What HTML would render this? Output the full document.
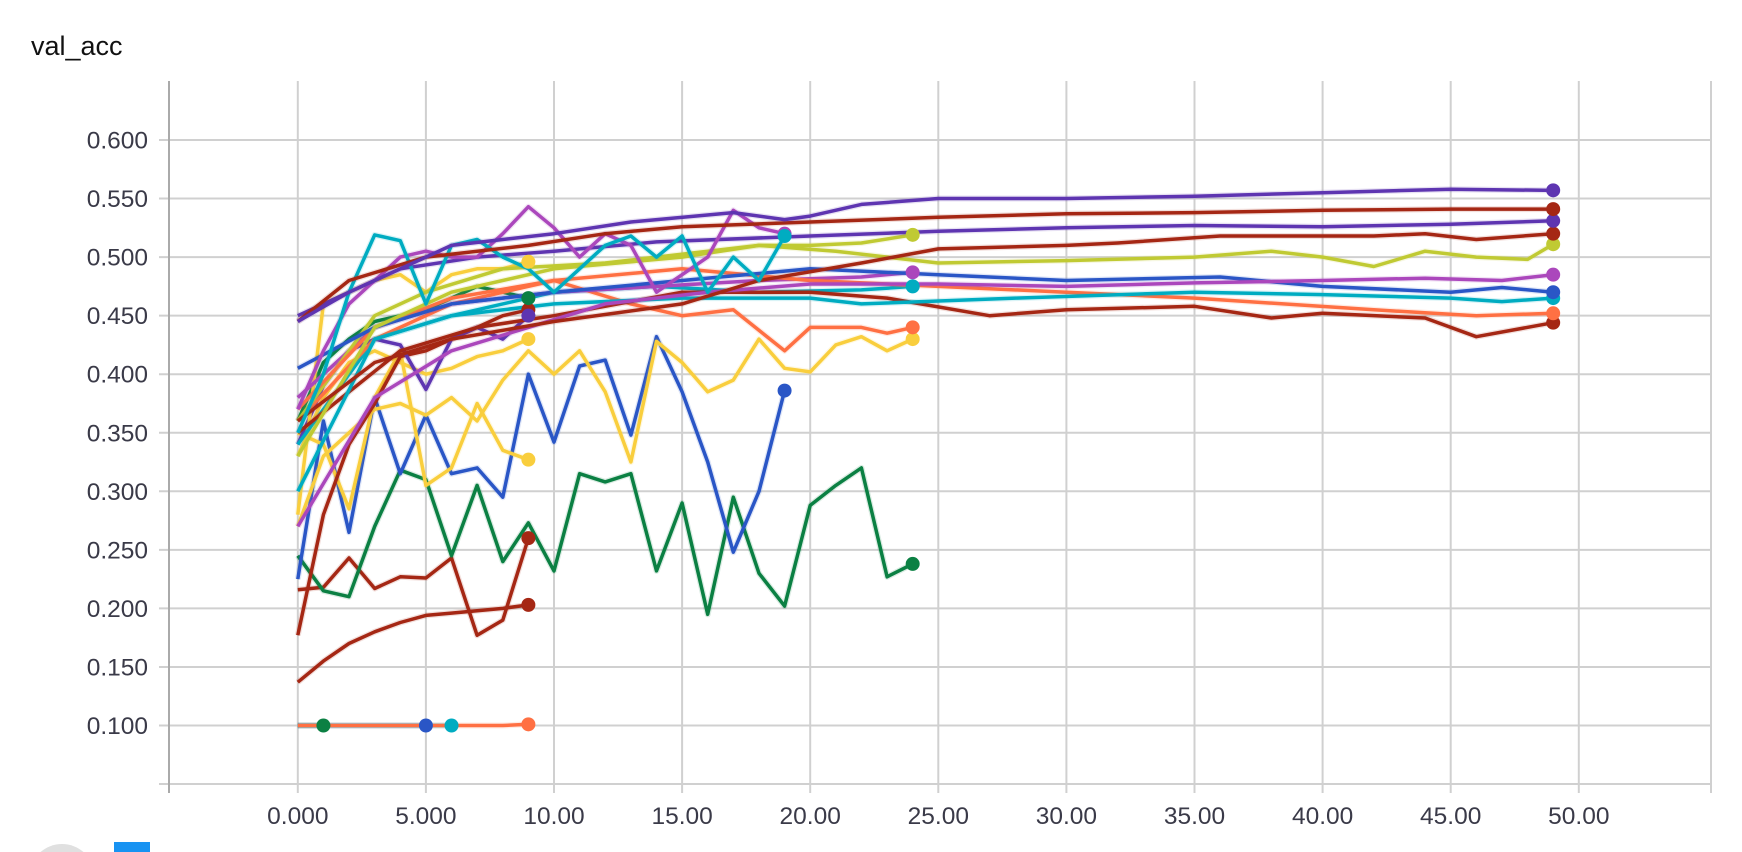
<!DOCTYPE html>
<html><head><meta charset="utf-8"><style>
html,body{margin:0;padding:0;background:#fff;width:1742px;height:852px;overflow:hidden}
svg{display:block;overflow:hidden}
text{font-family:"Liberation Sans",sans-serif}
</style></head><body>
<svg id="chart" width="1742" height="852">
<text x="31" y="55" font-size="27" fill="#111">val_acc</text>
<g id="grid"></g><g id="series"></g><g id="dots"></g>
<path d="M40.5,852 A33,33 0 0 1 83.5,852 Z" fill="#e0e0e0"/>
<rect x="114" y="842" width="36" height="10" fill="#1893f2"/>
</svg>
<script>
const xTicks=[0,5,10,15,20,25,30,35,40,45,50];
const xTickLabels=["0.000","5.000","10.00","15.00","20.00","25.00","30.00","35.00","40.00","45.00","50.00"];
const yTicks=[0.1,0.15,0.2,0.25,0.3,0.35,0.4,0.45,0.5,0.55,0.6];
const yTickLabels=["0.100","0.150","0.200","0.250","0.300","0.350","0.400","0.450","0.500","0.550","0.600"];
const purpleTop=[[0,.445],[2,.47],[4,.49],[6,.51],[8,.515],[10,.52],[13,.53],[17,.538],[19,.532],[20,.535],[22,.545],[25,.55],[30,.55],[35,.552],[40,.555],[45,.558],[49,.557]];
const redTop=[[0,.445],[2,.48],[5,.5],[9,.51],[12,.52],[15,.526],[20,.53],[25,.534],[30,.537],[35,.538],[40,.54],[45,.541],[49,.541]];
const purpleMid=[[0,.45],[2,.47],[4,.49],[7,.5],[10,.505],[14,.513],[20,.518],[25,.522],[30,.525],[35,.527],[40,.526],[45,.528],[49,.531]];
const redMid=[[0,.36],[3,.41],[6,.43],[10,.445],[15,.46],[18,.48],[22,.495],[25,.507],[30,.51],[32,.512],[36,.518],[42,.518],[44,.52],[46,.515],[49,.52]];
const limeLong=[[0,.33],[3,.44],[6,.47],[10,.49],[15,.5],[18,.51],[21,.505],[25,.495],[30,.497],[35,.5],[38,.505],[40,.5],[42,.492],[44,.505],[46,.5],[48,.498],[49,.511]];
const magentaLong=[[0,.27],[3,.38],[6,.42],[9,.44],[12,.46],[16,.47],[20,.477],[25,.477],[30,.475],[35,.478],[40,.48],[44,.482],[47,.48],[49,.485]];
const blueLong=[[0,.405],[3,.44],[6,.46],[10,.47],[15,.48],[20,.49],[25,.485],[30,.48],[36,.483],[40,.475],[45,.47],[47,.474],[49,.47]];
const cyanLong=[[0,.3],[3,.43],[6,.45],[10,.46],[15,.465],[20,.465],[22,.46],[28,.465],[35,.47],[40,.468],[45,.465],[47,.462],[49,.465]];
const orangeLong=[[0,.37],[3,.44],[6,.465],[10,.48],[15,.49],[20,.48],[25,.475],[30,.47],[35,.465],[42,.455],[46,.45],[49,.452]];
const redLow=[[0,.35],[4,.42],[7,.44],[10,.45],[15,.47],[20,.47],[23,.465],[27,.45],[30,.455],[35,.458],[38,.448],[40,.452],[44,.448],[46,.432],[49,.444]];
const limeMed=[[0,.36],[3,.45],[5,.47],[8,.49],[12,.495],[14,.5],[18,.51],[20,.51],[22,.512],[24,.519]];
const purpleMed=[[0,.38],[3,.44],[6,.46],[10,.47],[14,.475],[18,.48],[22,.483],[24,.487]];
const orangeMed=[[0,.36],[3,.43],[6,.46],[10,.48],[13,.46],[15,.45],[17,.455],[19,.42],[20,.44],[22,.44],[23,.435],[24,.44]];
const yellowMed=[.27,.33,.35,.37,.375,.365,.38,.36,.395,.42,.4,.42,.385,.325,.428,.41,.385,.395,.43,.405,.402,.425,.432,.42,.43];
const greenMed=[.245,.215,.21,.27,.318,.31,.245,.305,.24,.273,.232,.315,.308,.315,.232,.29,.195,.295,.23,.202,.288,.305,.32,.227,.238];
const cyanMed=[[0,.34],[3,.43],[6,.45],[10,.47],[14,.475],[18,.47],[22,.472],[24,.475]];
const blueShort=[.225,.36,.265,.38,.315,.365,.315,.32,.295,.4,.342,.407,.412,.348,.432,.385,.325,.248,.3,.386];
const cyanShort=[.35,.4,.47,.519,.514,.46,.51,.515,.5,.49,.47,.49,.51,.518,.5,.518,.47,.5,.48,.518];
const magentaShort=[.37,.42,.46,.48,.5,.505,.5,.5,.52,.543,.525,.5,.52,.51,.47,.485,.5,.54,.525,.52];
const yellowA=[.28,.46,.47,.48,.485,.47,.485,.49,.49,.496];
const yellowB=[.35,.34,.285,.38,.42,.305,.32,.375,.335,.327];
const yellowC=[.33,.38,.41,.42,.41,.4,.405,.415,.42,.43];
const redA=[.216,.218,.243,.217,.227,.226,.243,.177,.19,.26];
const redB=[.137,.155,.17,.18,.188,.194,.196,.198,.2,.203];
const redC=[.177,.28,.34,.375,.415,.42,.43,.44,.45,.455];
const greenShort=[.36,.41,.43,.445,.45,.455,.465,.475,.47,.465];
const purpleShort=[.34,.39,.42,.43,.425,.387,.43,.44,.43,.45];
const flatGreen=[.1,.1];
const flatBlue=[.1,.1,.1,.1,.1,.1];
const flatCyan=[.1,.1,.1,.1,.1,.1,.1];
const flatOrange=[.1,.1,.1,.1,.1,.1,.1,.1,.1,.101];

const C={purple:"#5e35b1",red:"#a52714",blue:"#2a56c6",green:"#0b8043",cyan:"#00acc1",yellow:"#f9ce3d",lime:"#c0ca33",orange:"#ff7043",magenta:"#ab47bc"};
const series=[
["flat-green",flatGreen,C.green],["flat-blue",flatBlue,C.blue],["flat-cyan",flatCyan,C.cyan],["flat-orange",flatOrange,C.orange],
["red-b",redB,C.red],["red-a",redA,C.red],["green-med",greenMed,C.green],["blue-short",blueShort,C.blue],
["yellow-b",yellowB,C.yellow],["yellow-med",yellowMed,C.yellow],["yellow-c",yellowC,C.yellow],["red-c",redC,C.red],
["purple-short",purpleShort,C.purple],["green-short",greenShort,C.green],["yellow-a",yellowA,C.yellow],
["cyan-med",cyanMed,C.cyan],["orange-med",orangeMed,C.orange],["purple-med",purpleMed,C.magenta],["lime-med",limeMed,C.lime],
["red-low",redLow,C.red],["orange-long",orangeLong,C.orange],["cyan-long",cyanLong,C.cyan],["blue-long",blueLong,C.blue],
["magenta-long",magentaLong,C.magenta],["lime-long",limeLong,C.lime],["red-mid",redMid,C.red],["purple-mid",purpleMid,C.purple],
["magenta-short",magentaShort,C.magenta],["cyan-short",cyanShort,C.cyan],["red-top",redTop,C.red],["purple-top",purpleTop,C.purple]
];
const X0=297.8,XS=25.62,Y0=725.5,YS=1171;
const xs=v=>X0+v*XS, ys=v=>Y0-(v-0.1)*YS;
const NS="http://www.w3.org/2000/svg";
const grid=document.getElementById('grid'),sg=document.getElementById('series'),dg=document.getElementById('dots');
function mk(tag,attrs,parent){const e=document.createElementNS(NS,tag);for(const k in attrs)e.setAttribute(k,attrs[k]);parent.appendChild(e);return e;}
yTicks.concat([0.05]).forEach((t,i)=>{
 const l=mk('line',{x1:159,x2:1711,y1:ys(t),y2:ys(t),stroke:"#d0d0d0","stroke-width":2},grid);
 
 
 if(i<yTickLabels.length){const tx=mk('text',{x:148,y:ys(t)+8.5,"text-anchor":"end","font-size":24.5,fill:"#3a3a48"},grid);tx.textContent=yTickLabels[i];
 
 }
});
mk('line',{x1:1711,x2:1711,y1:81,y2:793,stroke:"#d0d0d0","stroke-width":2},grid);
xTicks.forEach((t,i)=>{
 const l=mk('line',{x1:xs(t),x2:xs(t),y1:81,y2:793,stroke:"#d0d0d0","stroke-width":2},grid);
 
 
 const tx=mk('text',{x:xs(t),y:824,"text-anchor":"middle","font-size":24.5,fill:"#3a3a48"},grid);tx.textContent=xTickLabels[i];
 
 
});
const ax=mk('line',{x1:169,x2:169,y1:81,y2:793,stroke:"#aaa","stroke-width":2},grid);


series.forEach(([name,vals,col])=>{
 const pts=vals.map((v,i)=>Array.isArray(v)?v:[i,v]);
 const d=pts.map(p=>xs(p[0]).toFixed(1)+","+ys(p[1]).toFixed(1)).join(" ");
 const bg=mk('polyline',{points:d,fill:"none",stroke:col,"stroke-opacity":0.15,"stroke-width":6,"stroke-linejoin":"round"},sg);
 
 
 const pl=mk('polyline',{points:d,fill:"none",stroke:col,"stroke-width":3.5,"stroke-linejoin":"round"},sg);
 
 
 const last=pts[pts.length-1];
 const c=mk('circle',{cx:xs(last[0]),cy:ys(last[1]),r:7,fill:col},dg);
 
 
});
</script>
</body></html>
